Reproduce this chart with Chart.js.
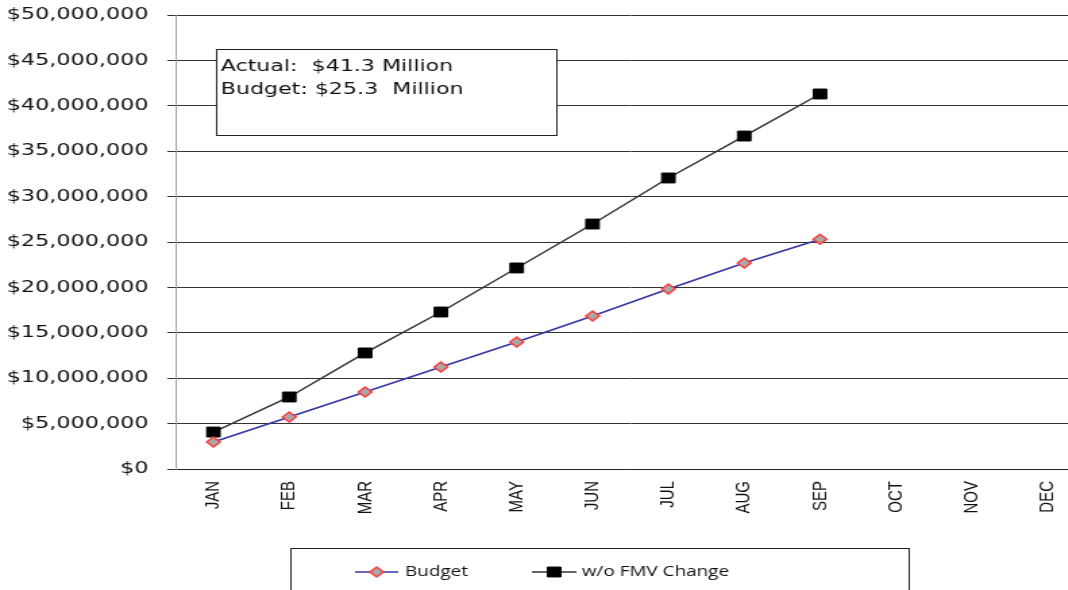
<!DOCTYPE html>
<html>
<head>
    <title>Budget vs Actual</title>
    <script src="https://cdn.jsdelivr.net/npm/chart.js"></script>
    <style>
        html, body { margin: 0; padding: 0; overflow: hidden; background: #fff; }
        .wrap { width: 812px; height: 600px; transform: scaleX(1.35); transform-origin: 0 0; }
    </style>
</head>
<body>
    <div class="wrap">
        <canvas id="chart" width="812" height="600"></canvas>
    </div>

    <script>
        // Chart data
        const months = ['JAN', 'FEB', 'MAR', 'APR', 'MAY', 'JUN', 'JUL', 'AUG', 'SEP', 'OCT', 'NOV', 'DEC'];
        const budget = [2970000, 5730000, 8480000, 11230000, 13990000, 16850000, 19820000, 22690000, 25300000];
        const withoutFmv = [4070000, 7930000, 12780000, 17290000, 22140000, 26980000, 32050000, 36670000, 41300000];
        const noteLines = ['Actual:  $41.3 Million', 'Budget: $25.3  Million'];

        // Text box in the upper left and boxed legend at the bottom
        const boxes = {
            id: 'boxes',
            afterDraw(chart) {
                const ctx = chart.ctx;
                ctx.save();
                ctx.strokeStyle = '#222';
                ctx.lineWidth = 1;
                ctx.fillStyle = '#fff';
                ctx.fillRect(160, 49, 252, 86);
                ctx.strokeRect(160.5, 49.5, 252, 86);
                ctx.fillStyle = '#111';
                ctx.font = '16.4px "DejaVu Sans"';
                ctx.textBaseline = 'middle';
                ctx.fillText(noteLines[0], 163.5, 67);
                ctx.fillText(noteLines[1], 163.5, 90);

                // legend
                ctx.strokeRect(215.5, 548.5, 458, 80);
                ctx.font = '14px "Open Sans"';
                const items = [
                    { x0: 263, x1: 295, tx: 300, ds: chart.data.datasets[0] },
                    { x0: 394, x1: 427, tx: 431, ds: chart.data.datasets[1] }
                ];
                items.forEach(it => {
                    const y = 572;
                    ctx.strokeStyle = it.ds.borderColor;
                    ctx.lineWidth = 1.5;
                    ctx.beginPath();
                    ctx.moveTo(it.x0, y);
                    ctx.lineTo(it.x1, y);
                    ctx.stroke();
                    ctx.fillStyle = it.ds.pointBackgroundColor;
                    ctx.strokeStyle = it.ds.pointBorderColor;
                    ctx.lineWidth = it.ds.pointBorderWidth;
                    Chart.helpers.drawPoint(ctx, {
                        pointStyle: it.ds.pointStyle,
                        radius: it.ds.pointRadius,
                        rotation: 0,
                        borderWidth: it.ds.pointBorderWidth
                    }, (it.x0 + it.x1) / 2, y);
                    ctx.fillStyle = '#111';
                    ctx.fillText(it.ds.label, it.tx, y);
                });
                ctx.restore();
            }
        };

        new Chart(document.getElementById('chart').getContext('2d'), {
            type: 'line',
            data: {
                labels: months,
                datasets: [
                    {
                        label: 'Budget',
                        data: budget,
                        borderColor: '#3535a5',
                        borderWidth: 1.5,
                        pointStyle: 'rectRot',
                        pointRadius: 5,
                        pointBackgroundColor: '#a8a8a8',
                        pointBorderColor: '#ff3b3b',
                        pointBorderWidth: 1.5,
                        tension: 0
                    },
                    {
                        label: 'w/o FMV Change',
                        data: withoutFmv,
                        borderColor: '#333333',
                        borderWidth: 1.5,
                        pointStyle: 'rect',
                        pointRadius: 7,
                        pointBackgroundColor: '#000000',
                        pointBorderColor: '#000000',
                        pointBorderWidth: 1,
                        tension: 0
                    }
                ]
            },
            options: {
                responsive: false,
                animation: false,
                layout: { padding: { top: 15, right: 0, left: 0, bottom: 0 } },
                plugins: { legend: { display: false }, tooltip: { enabled: false } },
                scales: {
                    x: {
                        offset: true,
                        grid: { display: false },
                        border: { display: true, color: '#222', width: 1 },
                        ticks: {
                            minRotation: 90, maxRotation: 90, padding: 4,
                            color: '#111', font: { family: '"Liberation Sans"', size: 15 }
                        },
                        afterFit: s => { s.height = 131; }
                    },
                    y: {
                        min: 0, max: 50000000,
                        grid: { color: '#333', lineWidth: 1, tickLength: 6 },
                        border: { color: '#a0a0a0', width: 1 },
                        ticks: {
                            stepSize: 5000000, padding: 14,
                            color: '#111', font: { family: '"DejaVu Sans"', size: 16.5 },
                            callback: v => '$' + v.toLocaleString('en-US')
                        },
                        afterFit: s => { s.width = 130; s.paddingTop = 0; s.paddingBottom = 0; }
                    }
                }
            },
            plugins: [boxes]
        });
    </script>
</body>
</html>
